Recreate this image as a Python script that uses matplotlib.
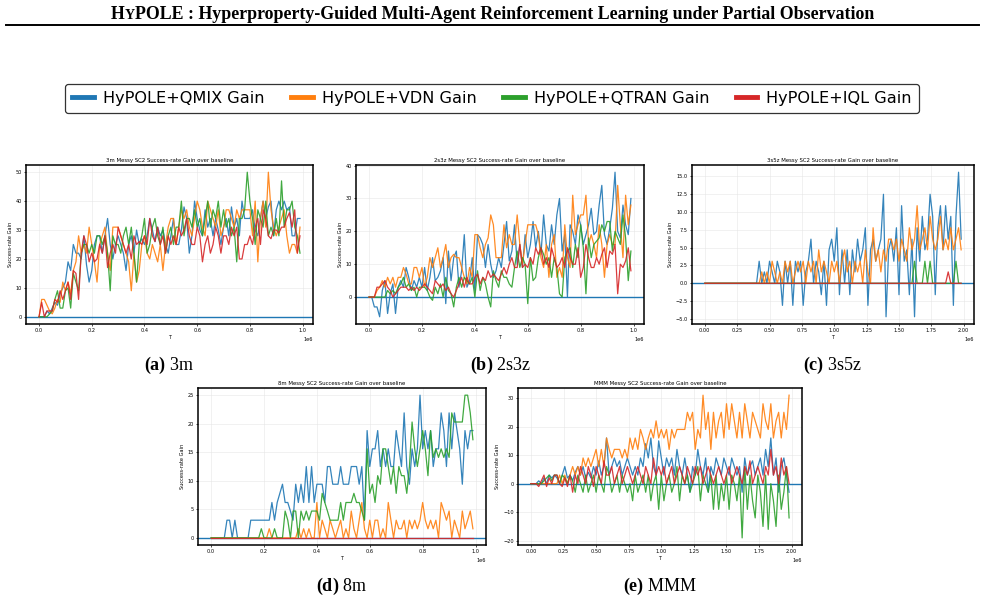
#!/usr/bin/env python3
"""
Success-rate gain of HyPOLE over each baseline learner on five messy SC2
maps, laid out like the paper figure (3 panels on top, 2 below, shared
legend).  Saves out.png.
"""
import numpy as np
import matplotlib
matplotlib.use('Agg')
import matplotlib.pyplot as plt
from matplotlib.lines import Line2D

LABELS = ['HyPOLE+QMIX Gain', 'HyPOLE+VDN Gain', 'HyPOLE+QTRAN Gain', 'HyPOLE+IQL Gain']
COLORS = ['#1f77b4', '#ff7f0e', '#2ca02c', '#d62728']

# evaluation points: every 1e4 steps (1M maps) or 2e4 steps (2M maps)
T_1M = np.arange(100) * 1e4
T_2M = np.arange(100) * 2e4

# ---- 3m --------------------------------------------------------------
QMIX_3M = [0, 0, 0, 2, 1, 3, 5, 4, 8, 10,
           12, 19, 16, 25, 22, 22, 20, 28, 18, 12,
           16, 25, 28, 28, 22, 28, 34, 25, 20, 25,
           28, 25, 22, 16, 25, 28, 22, 30, 25, 27,
           25, 28, 34, 30, 26, 31, 28, 30, 25, 22,
           28, 34, 25, 25, 30, 38, 34, 22, 28, 40,
           34, 30, 28, 37, 31, 34, 28, 34, 30, 25,
           31, 34, 28, 38, 31, 34, 28, 40, 34, 34,
           34, 37, 30, 28, 34, 40, 34, 38, 40, 28,
           37, 40, 37, 40, 37, 38, 28, 28, 34, 34]
VDN_3M = [0, 6, 6, 4, 2, 1, 3, 6, 5, 12,
          9, 12, 8, 16, 19, 28, 22, 25, 22, 31,
          25, 19, 12, 25, 28, 31, 22, 16, 31, 31,
          31, 28, 25, 22, 19, 9, 22, 12, 16, 25,
          28, 22, 20, 25, 22, 19, 25, 16, 25, 31,
          34, 34, 25, 31, 37, 34, 37, 31, 28, 34,
          40, 37, 31, 28, 40, 37, 34, 31, 37, 28,
          31, 37, 37, 34, 31, 37, 34, 37, 37, 37,
          37, 28, 40, 19, 34, 40, 31, 50, 37, 31,
          28, 31, 34, 37, 28, 22, 25, 25, 22, 31]
QTRAN_3M = [0, 0, 0, 0, 1, 2, 6, 9, 3, 3,
            9, 10, 3, 15, 12, 9, 22, 25, 25, 22,
            25, 22, 28, 28, 25, 28, 22, 9, 28, 25,
            25, 22, 28, 31, 25, 31, 22, 12, 25, 28,
            34, 22, 25, 31, 34, 28, 25, 31, 22, 28,
            31, 25, 31, 31, 40, 28, 34, 34, 31, 37,
            31, 34, 28, 34, 40, 31, 37, 34, 40, 31,
            37, 31, 34, 28, 31, 19, 34, 34, 37, 50,
            40, 34, 25, 37, 34, 31, 40, 28, 31, 28,
            34, 28, 47, 31, 37, 37, 40, 31, 28, 22]
IQL_3M = [0, 5, 0, 2, 2, 2, 6, 5, 9, 6,
          9, 12, 6, 16, 15, 6, 22, 28, 25, 19,
          22, 19, 20, 25, 22, 28, 17, 22, 25, 22,
          31, 28, 25, 22, 25, 20, 28, 25, 26, 25,
          28, 25, 34, 28, 26, 31, 25, 28, 22, 28,
          25, 28, 25, 31, 28, 30, 34, 28, 25, 25,
          31, 28, 19, 25, 28, 22, 25, 31, 28, 22,
          28, 28, 25, 31, 28, 31, 20, 20, 25, 25,
          28, 25, 31, 34, 25, 37, 34, 28, 27, 30,
          30, 29, 31, 31, 34, 36, 31, 37, 22, 28]

# ---- 2s3z ------------------------------------------------------------
QMIX_2S3Z = [0, 0, -3, -3, -6, 2, 5, -5, 1, 4,
             -5, 3, 5, 3, 9, 6, 2, 5, 3, 6,
             3, 9, 2, 6, 12, 5, 6, 8, 12, -2,
             14, 5, 12, 14, 3, 8, 19, 3, 5, 12,
             2, 19, 18, 16, 9, 16, 10, 6, 8, 12,
             9, 16, 23, 11, 14, 22, 10, 16, 9, 19,
             12, 16, 23, 15, 20, 13, 25, 16, 14, 22,
             16, 25, 30, 14, 19, 0, 22, 20, 16, 25,
             22, 16, 19, 22, 27, 19, 20, 28, 34, 19,
             16, 21, 27, 38, 20, 18, 28, 22, 19, 30]
VDN_2S3Z = [0, 0, 0, 2, 3, 5, 3, 6, 4, 6,
            3, 6, 6, 9, 7, 4, 4, 9, 9, 6,
            9, 3, 6, 12, 9, 12, 15, 9, 12, 16,
            9, 12, 13, 12, 12, 9, 6, 4, 9, 6,
            19, 19, 15, 12, 16, 18, 25, 22, 12, 12,
            12, 22, 15, 19, 16, 16, 25, 16, 10, 16,
            22, 22, 22, 22, 19, 12, 9, 16, 6, 16,
            19, 6, 9, 6, 22, 12, 9, 31, 19, 22,
            25, 25, 31, 16, 19, 16, 12, 22, 16, 6,
            16, 19, 16, 16, 34, 22, 12, 31, 22, 28]
QTRAN_2S3Z = [0, 0, 0, 0, 0, 0, 0, 2, 1, 2,
              1, 3, 4, 6, 3, 4, 2, 3, 0, 3,
              3, 3, 2, 0, -1, 3, 1, 4, 0, 6,
              2, 1, -3, 3, 6, 3, 6, 5, 4, 6,
              0, 8, 2, 6, 4, 0, -3, 8, 5, 3,
              8, 6, 6, 4, 3, 9, 14, 9, 12, 10,
              -2, 12, 5, 6, 12, 15, 13, 10, 12, 6,
              12, 9, 1, 0, 12, 14, 15, 9, 16, 12,
              22, 15, 1, 18, 12, 16, 17, 18, 22, 20,
              23, 23, 14, 20, 18, 16, 25, 18, 5, 14]
IQL_2S3Z = [0, 0, 0, 3, 3, 4, 5, 3, 2, 0,
            1, 2, 3, 3, 3, 2, 3, 2, 3, 2,
            3, 4, 3, 2, 1, 5, 4, 3, 4, 2,
            3, 1, 0, 2, 4, 6, 3, 6, 4, 4,
            6, 7, 4, 6, 5, 8, 6, 7, 6, 5,
            7, 9, 7, 10, 12, 9, 9, 16, 9, 10,
            9, 12, 10, 15, 13, 15, 10, 12, 9, 15,
            12, 9, 10, 12, 9, 15, 12, 10, 10, 15,
            6, 9, 16, 12, 9, 9, 12, 10, 13, 15,
            9, 14, 13, 16, 1, 10, 9, 11, 15, 8]

# ---- 3s5z ------------------------------------------------------------
QMIX_3S5Z = [0, 0, 0, 0, 0, 0, 0, 0, 0, 0,
             0, 0, 0, 0, 0, 0, 0, 0, 0, 0,
             0, 3.1, 0, 1.6, 0, 3.1, 1.6, 0, 3.1, 1.6,
             -3.1, 3.1, 0, 3.1, -3.1, 3.1, 1.6, 3.1, -3.1, 1.6,
             3.1, 6.2, 0, 3.1, 1.6, -1.6, 3.1, -3.1, 4.7, 6.2,
             3.1, 7.8, -1.6, 4.7, 0, 4.7, -1.6, 4.7, 1.6, 6.2,
             3.1, 4.7, 7.8, -3.1, 4.7, 6.2, 3.1, 4.7, 6.2, 12.5,
             -4.7, 4.7, 6.2, 3.1, 7.8, -1.6, 10.9, 3.1, 4.7, -1.6,
             6.2, -4.7, 7.8, 3.1, 9.4, 4.7, 6.2, 12.5, 9.4, -1.6,
             7.8, 10.9, 4.7, 10.9, 6.2, 9.4, -3.1, 9.4, 15.6, 6.2]
VDN_3S5Z = [0, 0, 0, 0, 0, 0, 0, 0, 0, 0,
            0, 0, 0, 0, 0, 0, 0, 0, 0, 0,
            0, 0, 1.6, 0, 1.6, 0, 3.1, 1.6, 0, 1.6,
            0, 3.1, 1.6, 3.1, 0, 1.6, 3.1, 1.6, 3.1, 0,
            3.1, 1.6, 3.1, 0, 4.7, 1.6, 3.1, 1.6, 0, 3.1,
            1.6, 3.1, 0, 3.1, 4.7, 1.6, 3.1, 0, 3.1, 1.6,
            3.1, 0, 4.7, 1.6, 0, 7.8, 3.1, 4.7, 1.6, 4.7,
            3.1, 6.2, 6.2, 4.7, 6.2, 3.1, 6.2, 4.7, 3.1, 7.8,
            4.7, 6.2, 10.9, 4.7, 6.2, 7.8, 4.7, 9.4, 6.2, 4.7,
            6.2, 9.4, 4.7, 6.2, 4.7, 7.8, 4.7, 6.2, 7.8, 4.7]
QTRAN_3S5Z = [0, 0, 0, 0, 0, 0, 0, 0, 0, 0,
              0, 0, 0, 0, 0, 0, 0, 0, 0, 0,
              0, 0, 0, 0, 0, 0, 0, 0, 0, 0,
              0, 0, 0, 0, 0, 0, 0, 0, 0, 0,
              0, 0, 0, 0, 0, 0, 0, 0, 0, 0,
              0, 0, 0, 0, 0, 0, 0, 0, 0, 0,
              0, 0, 0, 0, 0, 0, 0, 0, 0, 0,
              0, 0, 0, 0, 0, 0, 0, 0, 0, 0,
              0, 3.1, 0, 0, 0, 3.1, 0, 3.1, 0, 0,
              0, 0, 0, 0, 0, 0, 0, 3.1, 0, 0]
IQL_3S5Z = [0, 0, 0, 0, 0, 0, 0, 0, 0, 0,
            0, 0, 0, 0, 0, 0, 0, 0, 0, 0,
            0, 0, 0, 0, 0, 0, 0, 0, 0, 0,
            0, 0, 0, 0, 0, 0, 0, 0, 0, 0,
            0, 0, 0, 0, 0, 0, 0, 0, 0, 0,
            0, 0, 0, 0, 0, 0, 0, 0, 0, 0,
            0, 0, 0, 0, 0, 0, 0, 0, 0, 0,
            0, 0, 0, 0, 0, 0, 0, 0, 0, 0,
            0, 0, 0, 0, 0, 0, 0, 0, 0, 0,
            0, 0, 0, 0, 1.6, 0, 0, 0, 0, 0]

# ---- 8m --------------------------------------------------------------
QMIX_8M = [0, 0, 0, 0, 0, 0, 3.1, 3.1, 0, 3.1,
           0, 0, 0, 0, 0, 3.1, 3.1, 3.1, 3.1, 3.1,
           3.1, 3.1, 3.1, 6.2, 3.1, 6.2, 7.8, 9.4, 6.2, 6.2,
           4.7, 3.1, 9.4, 6.2, 9.4, 6.2, 12.5, 6.2, 12.5, 6.2,
           9.4, 9.4, 9.4, 6.2, 12.5, 12.5, 9.4, 9.4, 9.4, 12.5,
           9.4, 9.4, 9.4, 12.5, 12.5, 12.5, 9.4, 12.5, 3.1, 18.8,
           12.5, 15.6, 15.6, 18.8, 12.5, 15.6, 12.5, 15.6, 12.5, 12.5,
           18.8, 15.6, 12.5, 21.9, 12.5, 9.4, 15.6, 12.5, 15.6, 25.0,
           15.6, 18.8, 15.6, 18.8, 12.5, 15.6, 15.6, 21.9, 18.8, 12.5,
           21.9, 15.6, 21.9, 18.8, 15.6, 9.4, 18.8, 15.6, 18.8, 18.8]
VDN_8M = [0, 0, 0, 0, 0, 0, 0, 0, 0, 0,
          0, 0, 0, 0, 0, 0, 0, 0, 0, 0,
          0, 0, 1.6, 0, 0, 0, 0, 0, 0, 0,
          0, 0, 0, 1.6, 0, 1.6, 0, 1.6, 0, 0,
          6.2, 0, 3.1, 1.6, 0, 3.1, 1.6, 0, 1.6, 3.1,
          0, 1.6, 0, 4.7, 1.6, 0, 3.1, 6.2, 1.6, 0,
          3.1, 0, 3.1, 3.1, 0, 1.6, 0, 6.2, 3.1, 0,
          3.1, 1.6, 1.6, 3.1, 0, 3.1, 1.6, 3.1, 1.6, 3.1,
          6.2, 3.1, 1.6, 3.1, 1.6, 3.1, 0, 6.2, 4.7, 3.1,
          4.7, 0, 3.1, 1.6, 0, 4.7, 1.6, 3.1, 4.7, 1.6]
QTRAN_8M = [0, 0, 0, 0, 0, 0, 0, 0, 0, 0,
            0, 0, 0, 0, 0, 0, 0, 0, 0, 1.6,
            0, 0, 0, 0, 1.6, 0, 0, 0, 4.7, 3.1,
            0, 4.7, 4.7, 0, 4.7, 3.1, 4.7, 3.1, 4.7, 4.7,
            4.7, 3.1, 7.8, 6.2, 4.7, 3.1, 3.1, 3.1, 3.1, 6.2,
            3.1, 6.2, 6.2, 6.2, 7.8, 6.2, 6.2, 4.7, 3.1, 15.6,
            7.8, 9.4, 6.2, 10.9, 9.4, 15.6, 15.6, 12.5, 9.4, 12.5,
            7.8, 12.5, 10.9, 10.9, 7.8, 12.5, 20.3, 15.6, 12.5, 15.6,
            18.8, 15.6, 10.9, 18.8, 14.1, 15.6, 14.1, 15.6, 14.1, 15.6,
            14.1, 21.9, 20.3, 20.3, 20.3, 20.3, 25.0, 25.0, 21.9, 17.2]
IQL_8M = [0, 0, 0, 0, 0, 0, 0, 0, 0, 0,
          0, 0, 0, 0, 0, 0, 0, 0, 0, 0,
          0, 0, 0, 0, 0, 0, 0, 0, 0, 0,
          0, 0, 0, 0, 0, 0, 0, 0, 0, 0,
          0, 0, 0, 0, 0, 0, 0, 0, 0, 0,
          0, 0, 0, 0, 0, 0, 0, 0, 0, 0,
          0, 0, 0, 0, 0, 0, 0, 0, 0, 0,
          0, 0, 0, 0, 0, 0, 0, 0, 0, 0,
          0, 0, 0, 0, 0, 0, 0, 0, 0, 0,
          0, 0, 0, 0, 0, 0, 0, 0, 0, 0]

# ---- MMM -------------------------------------------------------------
QMIX_MMM = [0, 0, 0, 1, 0, 2, 0, 3, 2, 3,
            2, 0, 3, 6, 2, 3, 1, 4, 6, 3,
            6, 2, 4, 2, 6, 3, 8, 3, 6, 16,
            3, 6, 9, 6, 8, 3, 6, 9, 6, 3,
            6, 3, 9, 6, 14, 9, 16, 6, 3, 15,
            9, 3, 9, 6, 9, 3, 12, 6, 3, 9,
            3, -3, 6, 3, 12, 6, 3, 9, -3, 6,
            3, 9, 6, 3, 9, 6, 3, 9, 6, 3,
            6, -3, 9, 3, 6, 8, 3, 6, 9, 3,
            12, 6, 16, 3, 9, -3, 6, 9, 3, -3]
VDN_MMM = [0, 0, 0, 0, 0, 0, 0, 0, 0, 0,
           0, 3, 0, 3, 0, 3, 6, 3, 6, 3,
           9, 6, 9, 6, 9, 12, 6, 12, 6, 16,
           12, 9, 12, 12, 12, 9, 12, 9, 16, 12,
           16, 12, 19, 16, 12, 16, 19, 16, 22, 16,
           19, 16, 19, 12, 19, 16, 19, 19, 19, 19,
           25, 22, 25, 12, 19, 16, 31, 19, 25, 12,
           25, 16, 22, 25, 16, 28, 19, 28, 22, 16,
           25, 16, 28, 22, 16, 25, 22, 19, 16, 28,
           22, 19, 28, 16, 22, 25, 16, 25, 19, 31]
QTRAN_MMM = [0, 0, 0, 0, 0, 1, 2, 3, 1, 3,
             3, 0, 3, 2, 0, 3, 1, -3, 3, 0,
             -3, 3, -3, 0, 3, -3, 3, 0, -3, 6,
             3, -3, 0, 3, -3, 3, 0, -3, 0, -6,
             3, -3, 0, 3, -3, 3, -6, 0, 3, -9,
             3, -6, 0, 3, -3, 0, 6, -6, 3, 0,
             3, -3, 0, 3, 6, -6, 3, 0, -3, 3,
             -9, 3, -9, 0, -6, 3, -9, 3, 0, -6,
             3, -19, 6, -9, 3, -6, -12, 3, -3, -15,
             3, -16, 0, -6, -15, 3, -9, -3, 6, -12]
IQL_MMM = [0, 0, 0, -1, 1, 3, -1, 2, 0, 3,
           3, 0, -1, 2, -1, 3, -3, 3, 0, 6,
           3, 0, 6, 3, -1, 6, 3, 0, 8, 3,
           3, 6, 0, 3, 6, 0, 3, 6, 3, 0,
           3, 6, 3, 0, 6, 3, 0, 9, 3, 6,
           3, 6, 0, 3, 6, 0, 3, 6, 3, 0,
           6, 3, 0, 6, 3, 6, 0, 3, 6, 3,
           0, 3, 6, 3, 0, 3, 6, 0, 3, 6,
           3, 0, 6, 3, 8, 0, 3, 6, 3, 0,
           6, 3, 12, 3, 6, 0, 9, 3, 6, 0]

PANELS = [
    # map, steps, series, caption letter, axes rect (fig fraction)
    ('3m',   T_1M, [QMIX_3M, VDN_3M, QTRAN_3M, IQL_3M],         'a', [0.0264, 0.4582, 0.2914, 0.2659]),
    ('2s3z', T_1M, [QMIX_2S3Z, VDN_2S3Z, QTRAN_2S3Z, IQL_2S3Z], 'b', [0.3614, 0.4582, 0.2924, 0.2659]),
    ('3s5z', T_2M, [QMIX_3S5Z, VDN_3S5Z, QTRAN_3S5Z, IQL_3S5Z], 'c', [0.7025, 0.4582, 0.2863, 0.2659]),
    ('8m',   T_1M, [QMIX_8M, VDN_8M, QTRAN_8M, IQL_8M],         'd', [0.2010, 0.0886, 0.2924, 0.2625]),
    ('MMM',  T_2M, [QMIX_MMM, VDN_MMM, QTRAN_MMM, IQL_MMM],     'e', [0.5259, 0.0886, 0.2883, 0.2625]),
]

SMALL = 3.6


def draw_panel(ax, t, series, name):
    ax.axhline(0, color=COLORS[0], linewidth=1.0, zorder=1)
    for ys, c in zip(series, COLORS):
        ax.plot(t, ys, color=c, linewidth=0.9, alpha=0.9, zorder=2)
    ax.set_title(f'{name} Messy SC2 Success-rate Gain over baseline', fontsize=3.9, pad=2)
    ax.set_xlabel('T', fontsize=SMALL, labelpad=1)
    ax.set_ylabel('Success-rate Gain', fontsize=SMALL, labelpad=2)
    ax.ticklabel_format(axis='x', style='sci', scilimits=(0, 0))
    ax.xaxis.get_offset_text().set_fontsize(SMALL)
    ax.tick_params(labelsize=SMALL, length=1.5, width=0.5, pad=1.5)
    ax.grid(True, color='#e6e6e6', linewidth=0.4)
    ax.set_axisbelow(True)
    for s in ax.spines.values():
        s.set_linewidth(1.1)


def main():
    plt.rcParams['mathtext.fontset'] = 'custom'
    plt.rcParams['mathtext.rm'] = 'Liberation Serif'
    plt.rcParams['mathtext.bf'] = 'Liberation Serif:bold'

    fig = plt.figure(figsize=(9.85, 5.98), dpi=100)

    # running header with small-caps "Y" in HyPOLE
    renderer = fig.canvas.get_renderer()
    parts = [('H', 12.9), ('Y', 10.1),
             ('POLE : Hyperproperty-Guided Multi-Agent Reinforcement Learning under Partial Observation', 12.9)]
    texts = [fig.text(0, 0.969, s, fontsize=fs, family='Liberation Serif', weight='bold',
                      ha='left', va='baseline') for s, fs in parts]
    widths = [tx.get_window_extent(renderer).width for tx in texts]
    x = (fig.bbox.width - sum(widths)) / 2
    for tx, w in zip(texts, widths):
        tx.set_x(x / fig.bbox.width)
        x += w
    fig.add_artist(Line2D([0.006, 0.994], [0.958, 0.958], color='black', linewidth=1.4))

    for name, t, series, letter, rect in PANELS:
        ax = fig.add_axes(rect)
        draw_panel(ax, t, series, name)
        cx = rect[0] + rect[2] / 2
        fig.text(cx, rect[1] - 0.070, rf'$\mathbf{{({letter})}}$ {name}', fontsize=13,
                 family='Liberation Serif', ha='center', va='center')

    handles = [Line2D([], [], color=c, linewidth=3.5) for c in COLORS]
    leg = fig.legend(handles, LABELS, loc='center', bbox_to_anchor=(0.4995, 0.8355), ncol=4,
                     fontsize=11.6, handlelength=1.35, handletextpad=0.55, columnspacing=1.65,
                     borderpad=0.45, frameon=True, fancybox=True)
    leg.get_frame().set_edgecolor('black')
    leg.get_frame().set_linewidth(0.9)

    fig.savefig('out.png', dpi=100, facecolor='white')


if __name__ == '__main__':
    main()
